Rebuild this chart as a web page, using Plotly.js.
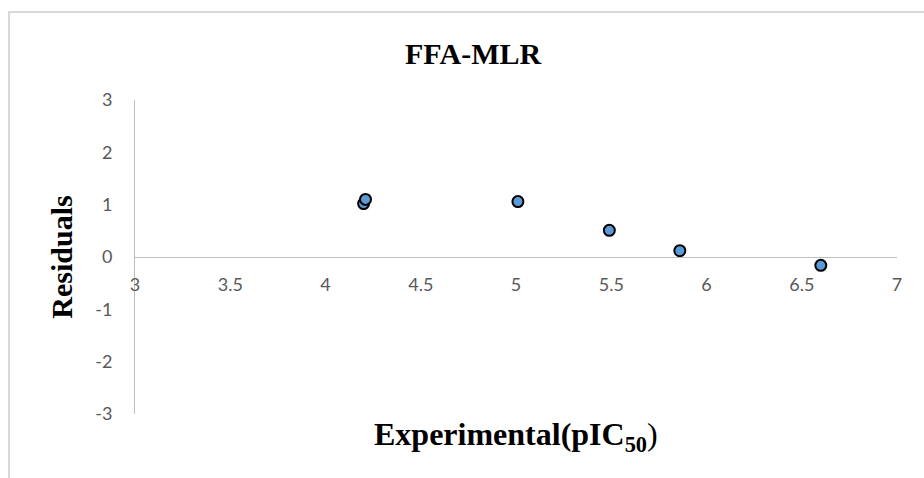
<!DOCTYPE html>
<html>
<head>
<meta charset="utf-8">
<script src="https://cdn.plot.ly/plotly-3.0.1.min.js"></script>
<style>
  html, body { margin: 0; padding: 0; background: #ffffff; }
  #wrap { position: relative; width: 924px; height: 478px; overflow: hidden; background: #ffffff; }
  #frame { position: absolute; left: 8px; top: 11px; width: 1000px; height: 1000px;
           border-left: 2px solid #d9d9d9; border-top: 2px solid #d9d9d9; pointer-events: none; }
  #chart { position: absolute; left: 0; top: 0; width: 924px; height: 478px; }
</style>
</head>
<body>
<div id="wrap">
  <div id="frame"></div>
  <div id="chart"></div>
</div>
<script>
// Data
const experimental = [4.20, 4.21, 5.01, 5.49, 5.86, 6.60];
const residuals    = [1.02, 1.10, 1.06, 0.51, 0.12, -0.16];

const xTicks = [3, 3.5, 4, 4.5, 5, 5.5, 6, 6.5, 7];
const yTicks = [-3, -2, -1, 0, 1, 2, 3];

const chartTitle = 'FFA-MLR';
const yTitle = 'Residuals';
const xTitle = '<b>Experimental(pIC<sub>50</sub></b>)';

const serif = '"Liberation Serif", "Times New Roman", serif';
const tickFont = { family: 'Lato, "Open Sans", sans-serif', size: 18, color: '#595959' };

const trace = {
  type: 'scatter',
  mode: 'markers',
  x: experimental,
  y: residuals,
  marker: { color: '#5b9bd5', size: 11, line: { color: '#000000', width: 2 } },
  hoverinfo: 'x+y',
  showlegend: false
};

const layout = {
  width: 924,
  height: 478,
  paper_bgcolor: 'rgba(0,0,0,0)',
  plot_bgcolor: 'rgba(0,0,0,0)',
  margin: { l: 135, r: 27, t: 100, b: 64, pad: 0 },
  title: {
    text: '<b>' + chartTitle + '</b>',
    font: { family: serif, size: 30, color: '#000000' },
    xref: 'container', x: 0.512, xanchor: 'center',
    yref: 'container', y: 0.889, yanchor: 'middle'
  },
  xaxis: {
    range: [3, 7],
    tickvals: xTicks,
    ticktext: xTicks.map(String),
    anchor: 'free',
    position: 0.5,
    showline: true,
    linecolor: '#bfbfbf',
    linewidth: 1,
    showgrid: false,
    zeroline: false,
    ticks: '',
    ticklabelstandoff: 11,
    tickfont: tickFont,
    fixedrange: true
  },
  yaxis: {
    range: [-3, 3],
    tickvals: yTicks,
    ticktext: yTicks.map(String),
    showline: true,
    linecolor: '#bfbfbf',
    linewidth: 1,
    showgrid: false,
    zeroline: false,
    ticks: '',
    ticklabelstandoff: 18,
    tickfont: tickFont,
    automargin: false,
    title: {
      text: '<b>' + yTitle + '</b>',
      font: { family: serif, size: 30, color: '#000000' },
      standoff: 13
    },
    fixedrange: true
  },
  annotations: [{
    text: xTitle,
    xref: 'paper', x: 0.5, xanchor: 'center',
    yref: 'paper', y: -0.073, yanchor: 'middle',
    showarrow: false,
    font: { family: serif, size: 32, color: '#000000' }
  }]
};

Plotly.newPlot('chart', [trace], layout, { displayModeBar: false, staticPlot: true });
</script>
</body>
</html>
